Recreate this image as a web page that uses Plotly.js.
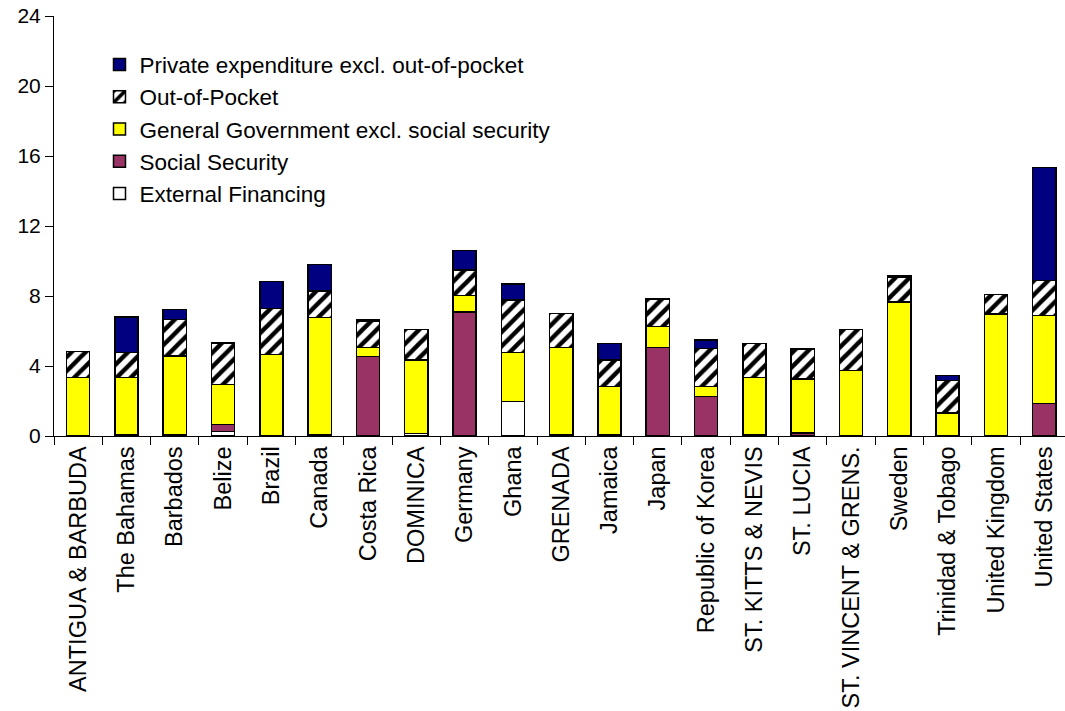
<!DOCTYPE html>
<html>
<head>
<meta charset="utf-8">
<script src="https://cdn.plot.ly/plotly-3.0.1.min.js"></script>
<style>html,body{margin:0;padding:0;background:#fff;}#chart{width:1065px;height:711px;}</style>
</head>
<body>
<div id="chart"></div>
<script>
const categories = ["ANTIGUA & BARBUDA","The Bahamas","Barbados","Belize","Brazil","Canada","Costa Rica","DOMINICA","Germany","Ghana","GRENADA","Jamaica","Japan","Republic of Korea","ST. KITTS & NEVIS","ST. LUCIA","ST. VINCENT & GRENS.","Sweden","Trinidad & Tobago","United Kingdom","United States"];
const externalFinancing = [0,0,0,0.25,0,0,0,0.15,0,1.98,0,0,0,0,0,0,0,0,0,0,0];
const socialSecurity = [0,0.08,0.08,0.4,0,0.08,4.55,0,7.09,0,0.08,0.05,5.07,2.27,0.05,0.18,0,0,0,0,1.87];
const generalGov = [3.35,3.27,4.49,2.3,4.65,6.68,0.52,4.19,0.95,2.78,4.97,2.79,1.2,0.57,3.28,3.07,3.75,7.66,1.31,6.97,5.01];
const outOfPocket = [1.47,1.41,2.1,2.36,2.63,1.53,1.5,1.74,1.45,3.01,1.96,1.5,1.52,2.15,1.95,1.72,2.35,1.43,1.85,1.12,2.0];
const privateExcl = [0,2.04,0.55,0,1.54,1.5,0.05,0,1.12,0.92,0,0.94,0.05,0.5,0,0,0,0.05,0.31,0,6.47];
const yTicks = [0,4,8,12,16,20,24];

const line = {color:'#000', width:1.5};
function tr(name, y, marker){
  return {type:'bar', name:name, x:categories, y:y, marker:Object.assign({line:line}, marker), hoverinfo:'y+name'};
}
const data = [
  tr('External Financing', externalFinancing, {color:'#ffffff'}),
  tr('Social Security', socialSecurity, {color:'#993366'}),
  tr('General Government excl. social security', generalGov, {color:'#ffff00'}),
  tr('Out-of-Pocket', outOfPocket, {color:'#ffffff', pattern:{shape:'/', fgcolor:'#000', bgcolor:'#fff', size:10, solidity:0.45, fillmode:'replace'}}),
  tr('Private expenditure excl. out-of-pocket', privateExcl, {color:'#000080'})
];
const font = "'Liberation Sans', Arial, sans-serif";
const layout = {
  width:1065, height:711, autosize:false,
  margin:{l:54, r:0, t:16, b:275, pad:0},
  paper_bgcolor:'#fff', plot_bgcolor:'#fff',
  barmode:'stack', bargap:0.52,
  font:{family:font, color:'#000'},
  showlegend:true,
  legend:{x:0.045, y:0.935, xanchor:'left', yanchor:'top', traceorder:'reversed', bgcolor:'rgba(0,0,0,0)', font:{size:22.5, family:font}, itemwidth:30, tracegroupgap:0},
  xaxis:{type:'category', range:[-0.5, 20.43], showline:true, linecolor:'#000', linewidth:1, ticks:'outside', tickson:'boundaries', ticklen:8, tickcolor:'#000', tickangle:-90, tickfont:{size:23.5, family:font}, showgrid:false, zeroline:false, fixedrange:true},
  yaxis:{range:[0,24], tickvals:yTicks, ticktext:yTicks.map(String), showline:true, linecolor:'#000', linewidth:1, ticks:'outside', ticklen:8, tickcolor:'#000', tickfont:{size:21, family:font}, showgrid:false, zeroline:false, fixedrange:true}
};
Plotly.newPlot('chart', data, layout, {displayModeBar:false, staticPlot:true});
</script>
</body>
</html>
